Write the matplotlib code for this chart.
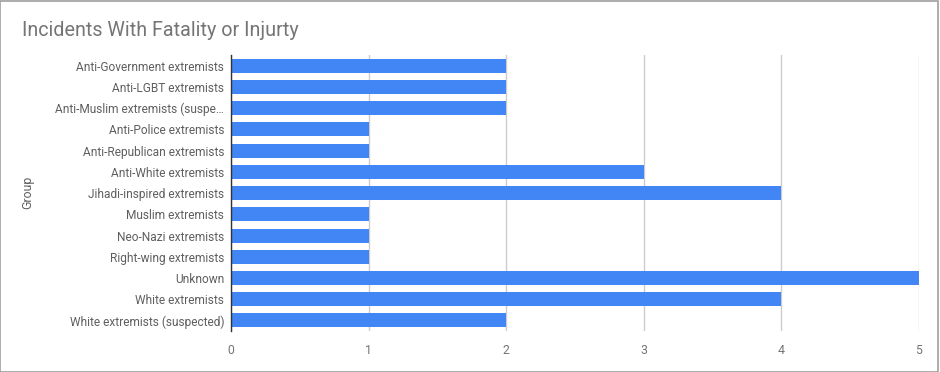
import matplotlib
matplotlib.use("Agg")
import matplotlib.pyplot as plt
from matplotlib.patches import Rectangle

groups = [
    "Anti-Government extremists",
    "Anti-LGBT extremists",
    "Anti-Muslim extremists (suspe…",
    "Anti-Police extremists",
    "Anti-Republican extremists",
    "Anti-White extremists",
    "Jihadi-inspired extremists",
    "Muslim extremists",
    "Neo-Nazi extremists",
    "Right-wing extremists",
    "Unknown",
    "White extremists",
    "White extremists (suspected)",
]
counts = [2, 2, 2, 1, 1, 3, 4, 1, 1, 1, 5, 4, 2]
xticks = [0, 1, 2, 3, 4, 5]

BLUE = "#4285f4"
GRAY = "#757575"
LABEL = "#5f5f5f"

plt.rcParams["font.family"] = ["Roboto", "DejaVu Sans"]

fig = plt.figure(figsize=(9.4, 3.72), dpi=100)
fig.patch.set_facecolor("white")
ax = fig.add_axes([0.2457, 0.110, 0.732, 0.742])

ypos = list(range(len(groups)))
ax.barh(ypos, counts, height=0.66, color=BLUE, zorder=3)
ax.set_ylim(len(groups) - 0.5, -0.5)
ax.set_xlim(0, 5)
ax.set_yticks(ypos)
ax.set_yticklabels(groups, fontsize=8.6, color=LABEL)
ax.set_xticks(xticks)
ax.set_xticklabels([str(t) for t in xticks], fontsize=8.8, color=GRAY)
ax.tick_params(axis="both", length=0, pad=5)
ax.tick_params(axis="x", pad=9)
ax.grid(axis="x", color="#cccccc", linewidth=1, zorder=0)
for s in ["top", "right", "bottom"]:
    ax.spines[s].set_visible(False)
ax.spines["left"].set_color("#333333")
ax.spines["left"].set_linewidth(1)
ax.spines["left"].set_zorder(4)

fig.text(22 / 940, 1 - 30 / 372, "Incidents With Fatality or Injurty",
         fontsize=14.2, color=GRAY, ha="left", va="center")
fig.text(28 / 940, 1 - 192 / 372, "Group", rotation=90,
         fontsize=8.8, color=LABEL, ha="center", va="center")

# outer frame
fig.patches.append(Rectangle((0.0005, 0.0005), 0.9975, 0.998,
                             transform=fig.transFigure, fill=False,
                             edgecolor="#9e9e9e", linewidth=1.2))

fig.savefig("out.png", dpi=100, facecolor="white")
